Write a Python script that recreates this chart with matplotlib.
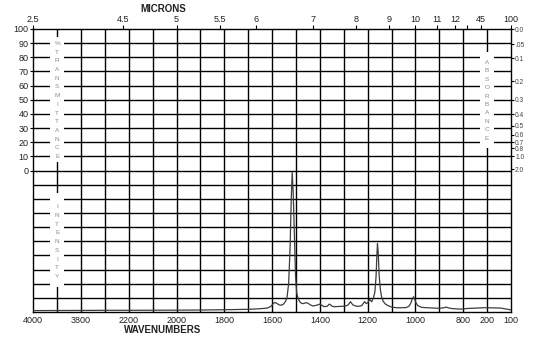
import numpy as np
import matplotlib
matplotlib.use('Agg')
import matplotlib.pyplot as plt
from matplotlib.patches import Rectangle

plt.rcParams['font.family'] = ['Liberation Sans', 'DejaVu Sans']

# ---------------- data ----------------
wavenumber = [4000, 3800, 3000, 2200, 2000, 1900, 1800, 1700, 1650, 1620, 1605,
              1595, 1589, 1580, 1570, 1562, 1553, 1545, 1538, 1531, 1525, 1520,
              1516, 1512, 1507, 1502, 1497, 1490, 1483, 1476, 1468, 1458, 1450,
              1440, 1430, 1420, 1412, 1400, 1390, 1383, 1370, 1360, 1350, 1340,
              1325, 1310, 1293, 1282, 1272, 1262, 1250, 1238, 1225, 1213, 1206,
              1200, 1192, 1183, 1176, 1170, 1165, 1161, 1159, 1156, 1152, 1147,
              1142, 1135, 1125, 1115, 1100, 1080, 1060, 1040, 1028, 1020, 1014,
              1008, 1003, 998, 990, 975, 950, 900, 880, 872, 860, 845, 820, 800,
              700, 590, 450, 300, 205, 145, 120, 100]
intensity = [1.0, 1.1, 1.2, 1.2, 1.3, 1.4, 1.6, 1.9, 2.3, 2.8, 4.0,
             6.0, 6.8, 6.0, 5.0, 4.8, 5.5, 7.3, 10.0, 20.0, 45.0, 80.0,
             98.6, 85.0, 55.0, 25.0, 13.0, 9.0, 7.0, 6.0, 6.0, 6.6, 6.2,
             5.0, 4.3, 4.5, 4.9, 5.6, 4.5, 3.8, 4.0, 5.6, 4.2, 3.7,
             3.9, 4.0, 4.2, 5.0, 7.3, 5.0, 4.2, 4.0, 4.5, 7.3, 6.0,
             6.5, 8.9, 7.3, 10.0, 14.0, 25.0, 42.0, 48.4, 42.0, 26.0, 16.0,
             10.8, 7.5, 5.5, 4.5, 3.5, 3.0, 3.0, 3.1, 4.0, 6.0, 9.0,
             10.8, 9.0, 6.5, 4.5, 3.3, 3.0, 2.6, 3.0, 3.5, 2.8, 2.4, 2.1, 2.1,
             2.5, 2.6, 2.8, 3.0, 3.0, 2.8, 2.1, 1.5]

bottom_tick_wn = [4000, 3800, 2200, 2000, 1800, 1600, 1400, 1200, 1000, 800, 200, 100]
bottom_tick_labels = ['4000', '3800', '2200', '2000', '1800', '1600', '1400',
                      '1200', '1000', '800', '200', '100']
micron_tick_wn = [4000, 2400, 2000, 1818, 1667, 1429, 1250, 1111, 1000, 909, 833, 714, 360, 100]
micron_tick_labels = ['2.5', '4.5', '5', '5.5', '6', '7', '8', '9', '10', '11', '12', '', '45', '100']
transmittance_ticks = [0, 10, 20, 30, 40, 50, 60, 70, 80, 90, 100]
absorbance_values = [0.0, 0.05, 0.1, 0.2, 0.3, 0.4, 0.5, 0.6, 0.7, 0.8, 1.0, 2.0]
absorbance_labels = ['0.0', '.05', '0.1', '0.2', '0.3', '0.4', '0.5', '0.6', '0.7', '0.8', '1.0', '2.0']

# ---------------- piecewise wavenumber scale ----------------
WN_BREAKS = np.array([100, 200, 800, 2200, 3800, 4000], float)
POS_BREAKS = np.array([0, 1, 2, 16, 18, 20], float)


def _pw(x, xp, fp):
    x = np.asarray(x, float)
    y = np.interp(x, xp, fp)
    y = np.where(x < xp[0], fp[0] + (x - xp[0]) * (fp[1] - fp[0]) / (xp[1] - xp[0]), y)
    y = np.where(x > xp[-1], fp[-1] + (x - xp[-1]) * (fp[-1] - fp[-2]) / (xp[-1] - xp[-2]), y)
    return y


def fwd(w):
    return _pw(w, WN_BREAKS, POS_BREAKS)


def inv(p):
    return _pw(p, POS_BREAKS, WN_BREAKS)


W, H = 537, 339
L_PX, R_PX, T_PX, B_PX = 33.3, 511.0, 29.0, 312.0

fig = plt.figure(figsize=(W / 100, H / 100), dpi=100)
ax = fig.add_axes([L_PX / W, (H - B_PX) / H, (R_PX - L_PX) / W, (B_PX - T_PX) / H])
ax.set_xscale('function', functions=(fwd, inv))
ax.set_xlim(4000, 100)
ax.set_ylim(-100, 100)


def fx(px):
    return (px - L_PX) / (R_PX - L_PX)


def fy(py):
    return (B_PX - py) / (B_PX - T_PX)


# grid
for p in range(1, 20):
    ax.axvline(float(inv(p)), color='black', lw=1.0, zorder=1)
for yv in range(-90, 100, 10):
    ax.axhline(yv, color='black', lw=1.0, zorder=1)

for s in ax.spines.values():
    s.set_linewidth(1.0)
    s.set_color('black')

# spectrum (intensity drawn in the lower half: 0 at bottom, 100 at the 0 %T line)
ax.plot(wavenumber, np.array(intensity) - 100, color='#3c3c3c', lw=0.9, zorder=3)

# bottom / left ticks
ax.set_xticks(bottom_tick_wn)
ax.set_xticklabels(bottom_tick_labels)
ax.xaxis.set_minor_locator(matplotlib.ticker.NullLocator())
ax.tick_params(axis='x', which='both', length=0, pad=3, labelsize=6.5, labelcolor='#222222')
ax.set_yticks(transmittance_ticks)
ax.set_yticklabels([str(v) for v in transmittance_ticks])
ax.tick_params(axis='y', length=2, width=0.8, pad=1.5, labelsize=6.5, labelcolor='#222222')

# top micron axis
axt = ax.twiny()
axt.set_xscale('function', functions=(fwd, inv))
axt.set_xlim(4000, 100)
axt.set_xticks(micron_tick_wn)
axt.set_xticklabels(micron_tick_labels)
axt.xaxis.set_minor_locator(matplotlib.ticker.NullLocator())
axt.tick_params(axis='x', which='major', length=3, width=0.8, pad=0.5, labelsize=6.5,
                labelcolor='#222222')
for s in axt.spines.values():
    s.set_visible(False)

# right absorbance axis
axr = ax.twinx()
axr.set_ylim(-100, 100)
axr.set_yticks([100 * 10 ** (-a) for a in absorbance_values])
axr.set_yticklabels(absorbance_labels)
axr.tick_params(axis='y', length=2, width=0.8, pad=1, labelsize=4.8, labelcolor='#444444')
for s in axr.spines.values():
    s.set_visible(False)

# stacked vertical labels with white backgrounds
def stacked(text, x_px, y0_px, step_px, box):
    bx0, bx1, by0, by1 = box
    ax.add_patch(Rectangle((fx(bx0), fy(by1)), fx(bx1) - fx(bx0), fy(by0) - fy(by1),
                           transform=ax.transAxes, facecolor='white', edgecolor='none',
                           zorder=2))
    for i, ch in enumerate(text):
        ax.text(fx(x_px), fy(y0_px + i * step_px), ch, transform=ax.transAxes,
                ha='center', va='center', fontsize=4.6, color='#8c8c8c', zorder=4)


stacked('%TRANSMITTANCE', 57.2, 43.5, 8.7, (50, 64, 37, 162))
stacked('INTENSITY', 57.2, 206.7, 8.75, (50, 64, 193, 287))
stacked('ABSORBANCE', 487.0, 62.5, 8.4, (480, 494, 52, 148))

fig.text(163 / W, 1 - 9 / H, 'MICRONS', ha='center', va='center', fontsize=7,
         fontweight='bold', color='#222222')
fig.text(163 / W, 1 - 330 / H, 'WAVENUMBERS', ha='center', va='center', fontsize=7,
         fontweight='bold', color='#222222')

fig.savefig('out.png', dpi=100, facecolor='white')
